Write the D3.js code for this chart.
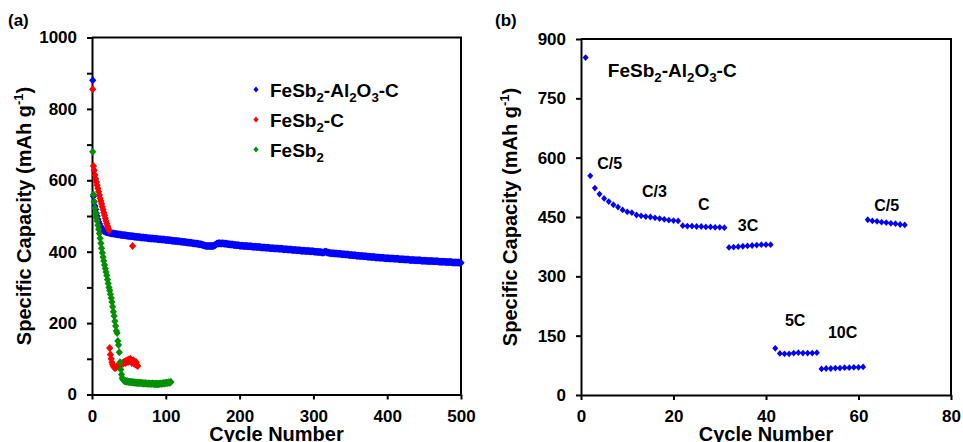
<!DOCTYPE html>
<html>
<head>
<meta charset="utf-8">
<script src="https://cdn.jsdelivr.net/npm/d3@7"></script>
<style>
  body { margin: 0; background: #fff; }
  svg text { font-family: Arial, "Liberation Sans", sans-serif; font-weight: bold; fill: #000; }
  .axis path, .axis line { stroke: #000; stroke-width: 2; }
</style>
</head>
<body>
<svg id="chart" width="963" height="442"></svg>
<script>
// (a) capacity per cycle, starting at cycle 1
const capAlC = [
  880,555,540,528,518,508,499,491,484,478,473,469,465,462,460,458,457,456,455,455,
  454,454,453,453,452,452,451,451,451,450,450,450,449,449,449,448,448,448,447,447,
  447,447,446,446,446,446,445,445,445,444,444,444,443,443,443,443,442,442,442,442,
  441,441,441,441,441,440,440,440,440,440,439,439,439,439,438,438,438,438,437,437,
  437,437,437,436,436,436,436,436,435,435,435,435,435,434,434,434,434,434,433,433,
  433,433,433,432,432,432,432,431,431,431,431,430,430,430,430,429,429,429,429,428,
  428,428,428,427,427,427,427,426,426,426,426,425,425,425,425,424,424,424,423,423,
  423,422,422,422,421,421,421,420,420,419,418,418,417,417,416,416,416,416,416,416,
  416,416,416,416,417,418,419,420,422,423,423,424,424,423,423,423,424,423,423,422,
  422,422,422,421,421,421,421,420,420,420,420,419,419,419,419,418,418,418,418,417,
  417,417,417,417,416,416,416,416,416,416,415,415,415,415,415,415,414,414,414,414,
  414,414,413,413,413,413,413,413,412,412,412,412,412,412,411,411,411,411,411,411,
  410,410,410,410,410,410,409,409,409,409,409,409,408,408,408,408,408,408,407,407,
  407,407,407,407,406,406,406,406,406,406,405,405,405,405,405,405,404,404,404,404,
  404,404,403,403,403,403,403,403,402,402,402,402,402,402,401,401,401,401,401,401,
  400,400,400,400,400,399,399,399,399,399,398,398,398,398,399,400,400,399,398,397,
  397,397,396,396,396,396,396,395,395,395,395,395,394,394,394,394,394,393,393,393,
  393,393,392,392,392,392,392,391,391,391,391,391,390,390,390,390,390,389,389,389,
  389,389,388,388,388,388,388,387,387,387,387,387,386,386,386,386,386,385,385,385,
  385,385,385,384,384,384,384,384,384,383,383,383,383,383,383,382,382,382,382,382,
  382,382,381,381,381,381,381,381,380,380,380,380,380,380,380,379,379,379,379,379,
  379,379,378,378,378,378,378,378,378,377,377,377,377,377,377,377,376,376,376,376,
  376,376,376,376,376,375,375,375,375,375,375,375,375,374,374,374,374,374,374,374,
  374,373,373,373,373,373,373,373,373,372,372,372,372,372,372,372,372,372,371,371,
  371,371,371,371,371,371,371,370,370,370,370,370,370,370,370,370,370,369,369,369
];
const capC = [
  855,640,628,615,604,595,586,577,568,559,550,542,534,526,518,510,502,494,486,479,
  472,466,460,130,112,100,90,84,80,76,74,75,77,79,80,82,83,84,86,85,
  88,86,90,92,88,94,90,96,92,98,94,100,92,88,416,96,86,92,84,90,
  82,80
];
const capBare = [
  680,560,540,522,507,496,486,474,463,451,438,424,410,397,385,374,363,353,343,333,
  322,311,300,291,281,270,259,246,232,220,205,192,178,172,150,139,118,90,70,56,
  46,42,40,38,37,38,36,37,36,35,36,35,34,35,34,34,33,34,33,33,
  33,32,33,32,32,33,32,31,32,31,31,32,31,31,30,31,30,31,30,30,
  30,31,30,30,29,30,30,29,30,29,30,30,31,30,31,31,32,31,32,32,
  33,32,33,34,33,34,35
];
const legendNames = [
  ["FeSb", "2", "-Al", "2", "O", "3", "-C"],
  ["FeSb", "2", "-C"],
  ["FeSb", "2"]
];
const colors = ["#0000ff", "#ff0000", "#009000"];
const xTicksA = [0, 100, 200, 300, 400, 500];
const yTicksA = [0, 100, 200, 300, 400, 500, 600, 700, 800, 900, 1000];

// (b) rate test, cycle 1..70
const rateCap = [
  853,554,523,508,497,489,481,475,468,463,461,455,453,451,450,448,446,444,442,441,
  440,428,427,427,426,426,425,425,424,424,423,373,374,375,376,377,378,379,380,380,
  380,118,105,104,104,106,107,106,106,106,107,66,67,67,68,68,69,69,70,70,
  71,443,440,439,437,436,434,433,431,430
];
const rateNames = ["C/5", "C/3", "C", "3C", "5C", "10C", "C/5"];
const rateAtCycle = [3.5, 13.2, 25.3, 33.9, 44.1, 53.4, 63.4];
const rateAtCap = [571, 500, 468, 415, 174, 144, 466];
const xTicksB = [0, 20, 40, 60, 80];
const yTicksB = [0, 150, 300, 450, 600, 750, 900];

const svg = d3.select("#chart");

function diamond(w, h) {
  return "M0," + (-h) + "L" + w + ",0L0," + h + "L" + (-w) + ",0Z";
}

function chem(text, parts, size) {
  parts.forEach((p, i) => {
    const sub = i % 2 === 1;
    text.append("tspan")
      .attr("font-size", sub ? size * 0.7 : size)
      .attr("dy", i === 0 ? 0 : (sub ? size * 0.3 : -size * 0.3))
      .text(p);
  });
}

function styleAxis(g) {
  g.attr("font-size", 17)
    .attr("font-family", "Arial, 'Liberation Sans', sans-serif")
    .attr("font-weight", "bold");
}

function frame(x, y) {
  const [x0, x1] = x.range();
  const [y0, y1] = y.range();
  svg.append("path")
    .attr("d", "M" + x0 + "," + y1 + "H" + x1 + "V" + y0)
    .attr("fill", "none")
    .attr("stroke", "#000")
    .attr("stroke-width", 2);
}

function yTitle(x, y) {
  const t = svg.append("text")
    .attr("text-anchor", "middle")
    .attr("font-size", 20)
    .attr("transform", "translate(" + x + "," + y + ") rotate(-90)");
  t.append("tspan").text("Specific Capacity (mAh g");
  t.append("tspan").attr("font-size", 13).attr("dy", -8).text("-1");
  t.append("tspan").attr("dy", 8).text(")");
}

// ---------- panel (a)
const xa = d3.scaleLinear().domain([0, 500]).range([92, 461]);
const ya = d3.scaleLinear().domain([0, 1000]).range([394.5, 37.5]);

frame(xa, ya);

svg.append("g").attr("class", "axis")
  .attr("transform", "translate(0," + ya(0) + ")")
  .call(d3.axisBottom(xa).tickValues(xTicksA).tickSize(5).tickPadding(10).tickSizeOuter(0))
  .call(styleAxis);

svg.append("g").attr("class", "axis")
  .attr("transform", "translate(" + xa(0) + ",0)")
  .call(d3.axisLeft(ya).tickValues(yTicksA).tickSize(5).tickPadding(10).tickSizeOuter(0)
    .tickFormat(d => d % 200 === 0 ? d : ""))
  .call(styleAxis);

[capAlC, capC, capBare].forEach((vals, k) => {
  svg.append("g").selectAll("path")
    .data(vals)
    .join("path")
    .attr("transform", (d, i) => "translate(" + xa(i + 1) + "," + ya(d) + ")")
    .attr("d", diamond(3.6, 4))
    .attr("fill", colors[k]);
});

legendNames.forEach((parts, k) => {
  const ly = 89.5 + k * 30;
  svg.append("path")
    .attr("transform", "translate(256," + ly + ")")
    .attr("d", diamond(2.6, 3))
    .attr("fill", colors[k]);
  chem(svg.append("text").attr("x", 270).attr("y", ly + 7).attr("font-size", 19), parts, 19);
});

svg.append("text").attr("x", 8).attr("y", 26).attr("font-size", 17).text("(a)");
svg.append("text").attr("x", (xa.range()[0] + xa.range()[1]) / 2).attr("y", 441)
  .attr("text-anchor", "middle").attr("font-size", 20).text("Cycle Number");
yTitle(31, 216);

// ---------- panel (b)
const xb = d3.scaleLinear().domain([0, 80]).range([581, 951]);
const yb = d3.scaleLinear().domain([0, 900]).range([395, 39]);

frame(xb, yb);

svg.append("g").attr("class", "axis")
  .attr("transform", "translate(0," + yb(0) + ")")
  .call(d3.axisBottom(xb).tickValues(xTicksB).tickSize(5).tickPadding(10).tickSizeOuter(0))
  .call(styleAxis);

svg.append("g").attr("class", "axis")
  .attr("transform", "translate(" + xb(0) + ",0)")
  .call(d3.axisLeft(yb).tickValues(yTicksB).tickSize(5).tickPadding(10).tickSizeOuter(0))
  .call(styleAxis);

svg.append("g").selectAll("path")
  .data(rateCap)
  .join("path")
  .attr("transform", (d, i) => "translate(" + xb(i + 1) + "," + yb(d) + ")")
  .attr("d", diamond(3, 3.4))
  .attr("fill", colors[0]);

rateNames.forEach((name, i) => {
  svg.append("text")
    .attr("x", xb(rateAtCycle[i]))
    .attr("y", yb(rateAtCap[i]))
    .attr("font-size", 16)
    .text(name);
});

chem(svg.append("text").attr("x", xb(5.8)).attr("y", yb(805)).attr("font-size", 19), legendNames[0], 19);

svg.append("text").attr("x", 495).attr("y", 26).attr("font-size", 17).text("(b)");
svg.append("text").attr("x", (xb.range()[0] + xb.range()[1]) / 2).attr("y", 441)
  .attr("text-anchor", "middle").attr("font-size", 20).text("Cycle Number");
yTitle(517, 217);
</script>
</body>
</html>
